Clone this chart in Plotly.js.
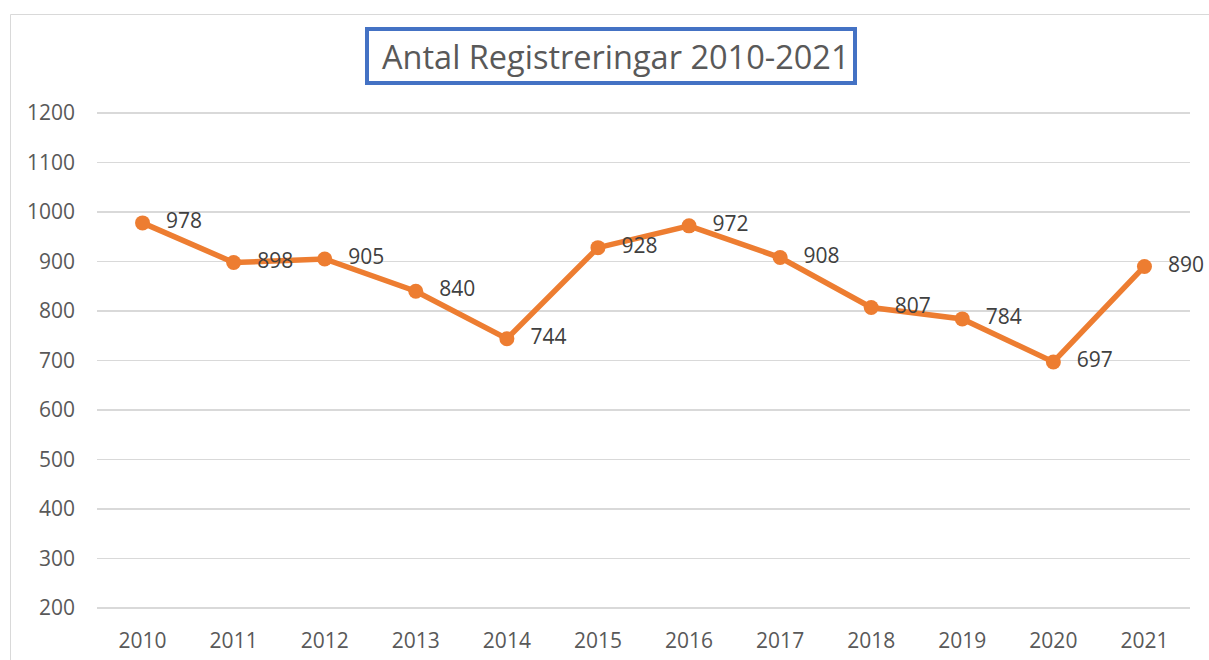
<!DOCTYPE html>
<html>
<head>
<meta charset="utf-8">
<script src="https://cdn.plot.ly/plotly-3.0.1.min.js"></script>
<style>html,body{margin:0;padding:0;background:#fff;}#chart{width:1209px;height:660px;}</style>
</head>
<body>
<div id="chart"></div>
<script>
const years = ["2010","2011","2012","2013","2014","2015","2016","2017","2018","2019","2020","2021"];
const registreringar = [978, 898, 905, 840, 744, 928, 972, 908, 807, 784, 697, 890];
const yTicks = [200, 300, 400, 500, 600, 700, 800, 900, 1000, 1100, 1200];
const chartTitle = "Antal Registreringar 2010-2021";

const lineTrace = {
  x: years,
  y: registreringar,
  type: "scatter",
  mode: "lines+markers",
  line: {color: "#ED7D31", width: 5.5},
  marker: {color: "#ED7D31", size: 15},
  cliponaxis: false,
  hoverinfo: "x+y"
};

const labelTrace = {
  x: years,
  y: registreringar,
  type: "scatter",
  mode: "markers+text",
  text: registreringar.map(String),
  textposition: "middle right",
  textfont: {family: "Open Sans, sans-serif", size: 21, color: "#404040"},
  marker: {color: "rgba(0,0,0,0)", size: 36},
  cliponaxis: false,
  hoverinfo: "skip"
};

// plot area: top 111px, bottom 610px (height 499px)
const PB = 610, PH = 499, PL = 97, PW = 1093;
const px = v => (v - PL) / PW;
const py = v => (PB - v) / PH;

const layout = {
  width: 1209, height: 660,
  margin: {l: 97, r: 19, t: 111, b: 50},
  paper_bgcolor: "#ffffff",
  plot_bgcolor: "#ffffff",
  showlegend: false,
  font: {family: "Open Sans, sans-serif", color: "#595959"},
  xaxis: {
    type: "category",
    range: [-0.5, 11.5],
    showgrid: false,
    zeroline: false,
    showline: false,
    ticks: "",
    ticklabelstandoff: 16,
    tickfont: {size: 21, color: "#595959"}
  },
  yaxis: {
    range: [196, 1204],
    tickvals: yTicks,
    ticktext: yTicks.map(String),
    showgrid: true,
    gridcolor: "#D9D9D9",
    gridwidth: 1.5,
    zeroline: false,
    showline: false,
    ticks: "",
    ticklabelstandoff: 21,
    tickfont: {size: 21, color: "#595959"}
  },
  shapes: [
    {type: "rect", xref: "paper", yref: "paper",
     x0: px(10.5), x1: 1.3, y0: -0.3, y1: py(14.5),
     line: {color: "#D9D9D9", width: 1}, fillcolor: "rgba(0,0,0,0)", layer: "below"},
    {type: "rect", xref: "paper", yref: "paper",
     x0: px(367), x1: px(855),
     y0: py(83), y1: py(29),
     line: {color: "#4472C4", width: 4}, fillcolor: "#ffffff"}
  ],
  annotations: [
    {text: chartTitle, xref: "paper", yref: "paper",
     x: px(616), y: py(57),
     xanchor: "center", yanchor: "middle", showarrow: false,
     font: {family: "Open Sans, sans-serif", size: 32.5, color: "#595959"}}
  ]
};

Plotly.newPlot("chart", [lineTrace, labelTrace], layout, {displayModeBar: false, staticPlot: true});
</script>
</body>
</html>
